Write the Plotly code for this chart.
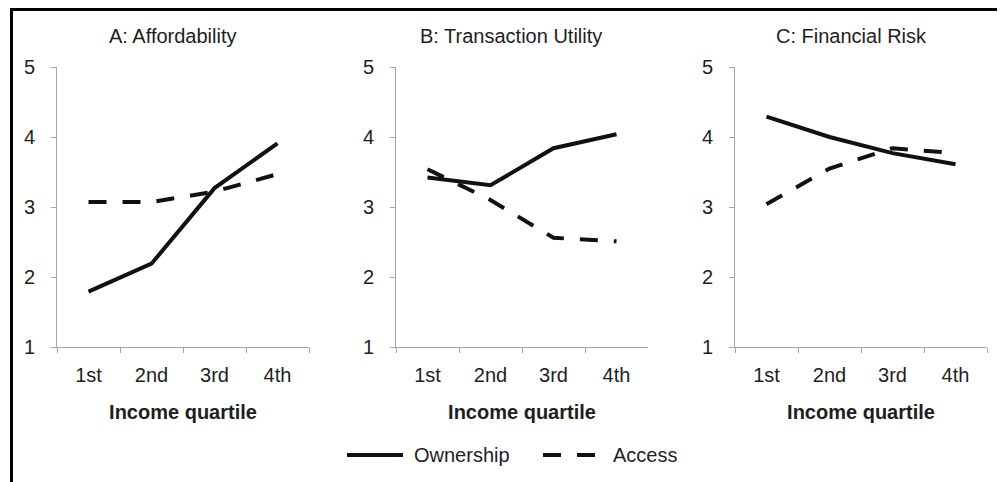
import plotly.graph_objects as go

# page is rendered with an 8px body margin; figure sized to fit the window
OFF = 8
W, H = 1005 - OFF, 482 - OFF

quartiles = ["1st", "2nd", "3rd", "4th"]
panel_titles = ["A: Affordability", "B: Transaction Utility", "C: Financial Risk"]

ownership_A = [1.79, 2.19, 3.27, 3.91]
access_A = [3.07, 3.07, 3.22, 3.47]
ownership_B = [3.42, 3.31, 3.84, 4.04]
access_B = [3.54, 3.10, 2.56, 2.51]
ownership_C = [4.29, 4.00, 3.77, 3.61]
access_C = [3.04, 3.55, 3.84, 3.77]

y_ticks = [1, 2, 3, 4, 5]
x_axis_title = "Income quartile"
legend_names = ["Ownership", "Access"]

FONT = "Liberation Sans, Arial, sans-serif"
FS = 20
TXT = "#1e1e1e"
AX = "#a6a6a6"
LINE = "#111111"
DASH = "18px,16px"

ownership = [ownership_A, ownership_B, ownership_C]
access = [access_A, access_B, access_C]


def fx(px):
    return (px - OFF) / W


def fy(py):
    return 1 - (py - OFF) / H


# panel pixel extents (page coordinates)
px_left = [57, 396, 735]
px_w = 252
py_top, py_bot = 67, 347
title_cx = [172, 511, 851]

fig = go.Figure()

for i in range(3):
    sfx = "" if i == 0 else str(i + 1)
    fig.add_trace(go.Scatter(
        x=quartiles, y=ownership[i], mode="lines", name=legend_names[0],
        line=dict(color=LINE, width=4), showlegend=False,
        xaxis="x" + sfx, yaxis="y" + sfx))
    fig.add_trace(go.Scatter(
        x=quartiles, y=access[i], mode="lines", name=legend_names[1],
        line=dict(color=LINE, width=4, dash=DASH), showlegend=False,
        xaxis="x" + sfx, yaxis="y" + sfx))

    xd = [fx(px_left[i]), fx(px_left[i] + px_w)]
    yd = [fy(py_bot), fy(py_top)]
    xa = dict(domain=xd, anchor="y" + sfx, type="category", automargin=False,
              categoryorder="array", categoryarray=quartiles,
              range=[-0.5, 3.5], tickson="boundaries",
              showline=True, linecolor=AX, linewidth=1,
              ticks="outside", ticklen=5, tickcolor=AX, tickwidth=1,
              showgrid=False, zeroline=False, ticklabelstandoff=10,
              tickfont=dict(family=FONT, size=FS, color=TXT),
              title=dict(text="<b>" + x_axis_title + "</b>", standoff=19,
                         font=dict(family=FONT, size=FS, color=TXT)))
    ya = dict(domain=yd, anchor="x" + sfx, range=[1, 5], automargin=False,
              tickvals=y_ticks, showline=True, linecolor=AX, linewidth=1,
              ticks="outside", ticklen=5, tickcolor=AX, tickwidth=1,
              showgrid=False, zeroline=False, ticklabelstandoff=12,
              tickfont=dict(family=FONT, size=FS, color=TXT))
    fig.update_layout({"xaxis" + sfx: xa, "yaxis" + sfx: ya})

    fig.add_annotation(x=fx(title_cx[i]), y=fy(36), xref="paper", yref="paper",
                       text=panel_titles[i], showarrow=False,
                       xanchor="center", yanchor="middle",
                       font=dict(family=FONT, size=FS, color=TXT))

# outer frame (open at the bottom edge of the picture)
fig.add_shape(type="rect", xref="paper", yref="paper",
              x0=fx(11.5), x1=fx(998.5), y0=-0.05, y1=fy(9.5),
              line=dict(color="black", width=3), fillcolor="rgba(0,0,0,0)")

# legend (drawn manually to match the long line samples)
ly = fy(455)
fig.add_shape(type="line", xref="paper", yref="paper",
              x0=fx(347), x1=fx(403), y0=ly, y1=ly,
              line=dict(color=LINE, width=4))
fig.add_annotation(x=fx(412), y=ly, xref="paper", yref="paper",
                   text=legend_names[0], showarrow=False,
                   xanchor="left", yanchor="middle",
                   font=dict(family=FONT, size=FS, color=TXT))
fig.add_shape(type="line", xref="paper", yref="paper",
              x0=fx(543), x1=fx(598), y0=ly, y1=ly,
              line=dict(color=LINE, width=4, dash=DASH))
fig.add_annotation(x=fx(611), y=ly, xref="paper", yref="paper",
                   text=legend_names[1], showarrow=False,
                   xanchor="left", yanchor="middle",
                   font=dict(family=FONT, size=FS, color=TXT))

fig.update_layout(width=W, height=H, margin=dict(l=0, r=0, t=0, b=0, autoexpand=False),
                  paper_bgcolor="white", plot_bgcolor="white",
                  showlegend=False)

fig.write_html("out.html")
